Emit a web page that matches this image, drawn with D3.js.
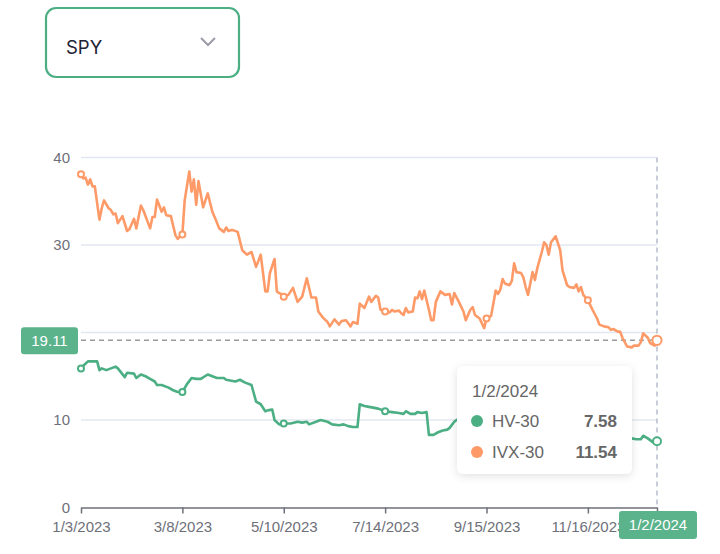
<!DOCTYPE html>
<html>
<head>
<meta charset="utf-8">
<script src="https://cdn.jsdelivr.net/npm/d3@7/dist/d3.min.js"></script>
<style>
  html, body { margin: 0; padding: 0; background: #fff; }
  svg { display: block; }
</style>
</head>
<body>
<svg id="chart" width="720" height="554"></svg>
<script>
// ---------- data ----------
const symbol = "SPY";
const tickDays = [0, 44, 88, 132, 176, 220, 250];
const tickLabels = ["1/3/2023", "3/8/2023", "5/10/2023", "7/14/2023", "9/15/2023", "11/16/2023", "1/2/2024"];
const yTicks = [0, 10, 20, 30, 40];
const lastDay = 250;
const hoverLabel = "1/2/2024";
const hoverHV = "7.58";
const hoverIVX = "11.54";
const crossValue = 19.11;

// [trading day index, value]
const ivx30 = [[0,38.1],[1,37.6],[2,37.7],[3,36.9],[4,37.5],[5,36.7],[6,36.7],[8,32.9],[9,34.2],[10,35.1],[12,34.2],[13,34.0],[14,33.5],[15,33.6],[16,32.5],[18,33.3],[20,31.6],[21,31.8],[23,33.0],[24,31.9],[26,34.5],[27,34.0],[30,31.9],[31,33.2],[32,33.2],[33,35.2],[35,33.8],[36,34.3],[37,33.4],[39,33.3],[41,31.1],[42,30.7],[43,31.0],[44,31.2],[45,35.1],[47,38.4],[48,36.1],[49,37.5],[50,34.6],[51,37.3],[53,34.3],[55,35.9],[57,33.8],[58,33.2],[60,31.9],[62,31.5],[63,32.0],[64,31.6],[65,31.7],[66,31.7],[68,31.5],[70,29.4],[72,28.9],[74,29.2],[76,27.5],[78,28.9],[80,24.7],[81,24.7],[82,26.8],[84,28.4],[85,24.7],[86,24.5],[87,24.4],[88,24.1],[90,24.3],[92,25.1],[94,23.5],[96,24.1],[98,26.2],[100,24.0],[102,24.0],[103,22.4],[105,21.7],[107,21.2],[108,20.7],[110,21.5],[112,20.9],[113,21.3],[115,21.4],[117,20.7],[118,21.2],[120,21.0],[121,23.3],[123,22.8],[125,24.1],[126,23.5],[128,24.2],[129,24.0],[130,22.6],[132,22.4],[134,22.3],[135,22.6],[136,22.4],[138,22.5],[139,22.2],[140,22.0],[141,22.8],[142,22.3],[144,22.4],[145,24.0],[146,23.9],[147,24.7],[148,23.8],[149,24.8],[151,22.6],[152,21.4],[153,21.4],[154,23.5],[156,24.7],[158,24.3],[160,24.4],[161,23.2],[162,24.5],[164,23.5],[166,22.4],[167,21.4],[169,22.6],[170,22.9],[171,22.0],[173,21.6],[175,20.5],[176,21.6],[178,21.9],[180,24.8],[181,24.4],[182,24.9],[183,26.1],[184,25.6],[186,25.4],[187,25.9],[188,27.9],[189,26.9],[191,26.8],[192,26.3],[193,25.2],[194,24.3],[196,26.9],[197,26.0],[198,27.3],[200,29.2],[201,30.3],[202,30.0],[203,28.9],[204,30.3],[206,31.0],[208,29.4],[209,27.1],[211,25.4],[212,25.2],[214,25.1],[215,25.5],[216,24.7],[217,25.2],[218,24.3],[220,23.7],[222,22.6],[224,21.6],[225,20.9],[227,20.7],[229,20.6],[230,20.3],[231,20.4],[233,20.1],[234,20.1],[235,19.4],[237,18.4],[239,18.3],[240,18.5],[242,18.5],[243,18.9],[244,19.9],[246,19.4],[247,18.8],[249,18.5],[250,19.11]];

const hv30 = [[0,15.9],[1,16.2],[3,16.7],[5,16.7],[7,16.7],[8,15.7],[9,15.9],[11,15.7],[13,15.9],[15,16.1],[16,15.9],[19,14.9],[20,15.4],[23,15.3],[24,14.8],[26,15.2],[28,15.0],[30,14.7],[32,14.4],[33,14.0],[35,14.0],[38,13.7],[40,13.4],[42,13.2],[44,13.2],[46,14.1],[48,14.8],[50,14.7],[52,14.7],[55,15.2],[57,15.0],[59,14.8],[62,14.8],[63,14.6],[67,14.4],[69,14.6],[71,14.3],[74,14.0],[76,12.1],[78,11.8],[80,11.0],[81,11.1],[83,11.2],[84,10.0],[86,9.5],[88,9.6],[91,9.6],[94,9.8],[96,9.7],[98,9.8],[99,9.5],[102,9.8],[104,10.0],[107,9.8],[109,9.5],[112,9.4],[114,9.5],[116,9.3],[118,9.2],[120,9.2],[121,11.8],[123,11.6],[125,11.5],[129,11.3],[132,11.0],[135,10.9],[138,10.8],[140,10.7],[141,11.0],[143,10.7],[145,10.7],[146,10.9],[148,10.8],[150,10.9],[151,8.3],[153,8.3],[155,8.6],[157,8.8],[159,8.9],[160,9.1],[162,9.8],[163,10.0],[166,10.5],[170,10.9],[174,10.7],[176,10.8],[180,11.4],[184,12.1],[188,12.9],[192,13.3],[196,13.6],[200,14.1],[204,13.7],[208,13.9],[212,13.0],[216,11.9],[220,10.8],[224,9.9],[228,9.1],[232,8.6],[236,8.2],[239,7.9],[241,7.8],[243,7.8],[244,8.2],[246,7.9],[248,7.5],[250,7.58]];

// ---------- drawing ----------
const GREEN = "#4caf84", ORANGE = "#fd9a68", LABEL_GREEN = "#5bb38b";
const svg = d3.select("#chart");
const FONT = "'Liberation Sans', Arial, sans-serif";

const defs = svg.append("defs");
const f = defs.append("filter").attr("id", "shadow").attr("x", "-20%").attr("y", "-20%").attr("width", "140%").attr("height", "150%");
f.append("feDropShadow").attr("dx", 0).attr("dy", 2).attr("stdDeviation", 4).attr("flood-color", "#000").attr("flood-opacity", 0.12);

// dropdown
svg.append("rect").attr("x", 46).attr("y", 8).attr("width", 193).attr("height", 69).attr("rx", 10)
  .attr("fill", "#fff").attr("stroke", GREEN).attr("stroke-width", 2.2);
svg.append("text").attr("x", 66).attr("y", 54).attr("font-family", "Inter, sans-serif").attr("font-size", 18.5)
  .attr("fill", "#1e2235").text(symbol);
svg.append("path").attr("d", "M201,38 L208,45 L215,38").attr("fill", "none").attr("stroke", "#9a9ba6").attr("stroke-width", 2);

const x = d3.scaleLinear().domain([0, lastDay]).range([81, 657]);
const y = d3.scaleLinear().domain([0, 40]).range([507.5, 157.5]);

// grid
svg.append("g").selectAll("line").data(yTicks.filter(d => d > 0)).join("line")
  .attr("x1", 81).attr("x2", 657).attr("y1", d => y(d)).attr("y2", d => y(d))
  .attr("stroke", "#e3e7f1").attr("stroke-width", 1.5);

// y labels
svg.append("g").selectAll("text").data(yTicks).join("text")
  .attr("x", 70).attr("y", d => y(d)).attr("dy", "0.35em").attr("text-anchor", "end")
  .attr("font-family", FONT).attr("font-size", 15).attr("fill", "#6e7079").text(d => d);

// x axis
const xAxis = d3.axisBottom(x).tickValues(tickDays).tickFormat((d, i) => tickLabels[i]).tickSize(6).tickSizeOuter(0);
const gx = svg.append("g").attr("transform", `translate(0,${y(0)})`).call(xAxis);
gx.select(".domain").attr("stroke", "#6e7079").attr("stroke-width", 1.5);
gx.selectAll(".tick line").attr("stroke", "#6e7079").attr("stroke-width", 1.5);
gx.selectAll(".tick text").attr("font-family", FONT).attr("font-size", 15).attr("fill", "#6e7079").attr("dy", "1.05em");

// crosshair
svg.append("line").attr("x1", x(lastDay)).attr("x2", x(lastDay)).attr("y1", y(40)).attr("y2", y(0))
  .attr("stroke", "#b6bccb").attr("stroke-width", 1.5).attr("stroke-dasharray", "5,4");
svg.append("line").attr("x1", 81).attr("x2", x(lastDay)).attr("y1", y(crossValue)).attr("y2", y(crossValue))
  .attr("stroke", "#9b9b9b").attr("stroke-width", 1.5).attr("stroke-dasharray", "5,4");

// lines
const line = d3.line().x(d => x(d[0])).y(d => y(d[1]));
svg.append("path").datum(ivx30).attr("d", line).attr("fill", "none").attr("stroke", ORANGE).attr("stroke-width", 2.6).attr("stroke-linejoin", "round");
svg.append("path").datum(hv30).attr("d", line).attr("fill", "none").attr("stroke", GREEN).attr("stroke-width", 2.6).attr("stroke-linejoin", "round");

// markers at tick days
function markers(series, color, rEnd) {
  const pts = series.filter(d => tickDays.includes(d[0]));
  svg.append("g").selectAll("circle").data(pts).join("circle")
    .attr("cx", d => x(d[0])).attr("cy", d => y(d[1]))
    .attr("r", d => d[0] === lastDay ? rEnd : 3).attr("fill", "#fff").attr("stroke", color).attr("stroke-width", 2);
}
markers(ivx30, ORANGE, 4.6);
markers(hv30, GREEN, 4);

// y crosshair label
const yl = svg.append("g").attr("transform", `translate(21,${y(crossValue) - 13})`);
yl.append("rect").attr("width", 57).attr("height", 27).attr("rx", 3).attr("fill", LABEL_GREEN);
yl.append("text").attr("x", 28.5).attr("y", 13.5).attr("dy", "0.35em").attr("text-anchor", "middle")
  .attr("font-family", FONT).attr("font-size", 15).attr("fill", "#fff").text(crossValue.toFixed(2));

// x crosshair label
const xl = svg.append("g").attr("transform", `translate(619,511)`);
xl.append("rect").attr("width", 78).attr("height", 28).attr("rx", 3).attr("fill", LABEL_GREEN);
xl.append("text").attr("x", 39).attr("y", 14).attr("dy", "0.35em").attr("text-anchor", "middle")
  .attr("font-family", FONT).attr("font-size", 15).attr("fill", "#fff").text(hoverLabel);

// tooltip
const tt = svg.append("g").attr("transform", "translate(457,366)");
tt.append("rect").attr("width", 175).attr("height", 108).attr("rx", 6).attr("fill", "#fff").attr("filter", "url(#shadow)");
tt.append("text").attr("x", 15).attr("y", 31).attr("font-family", FONT).attr("font-size", 17).attr("fill", "#666").text(hoverLabel);
const rows = [["HV-30", hoverHV, GREEN], ["IVX-30", hoverIVX, ORANGE]];
rows.forEach((r, i) => {
  const cy = 55 + i * 31;
  tt.append("circle").attr("cx", 20).attr("cy", cy).attr("r", 6).attr("fill", r[2]);
  tt.append("text").attr("x", 35).attr("y", cy).attr("dy", "0.35em").attr("font-family", FONT).attr("font-size", 17).attr("fill", "#666").text(r[0]);
  tt.append("text").attr("x", 160).attr("y", cy).attr("dy", "0.35em").attr("text-anchor", "end").attr("font-family", FONT).attr("font-size", 17).attr("font-weight", "bold").attr("fill", "#666").text(r[1]);
});
</script>
</body>
</html>
